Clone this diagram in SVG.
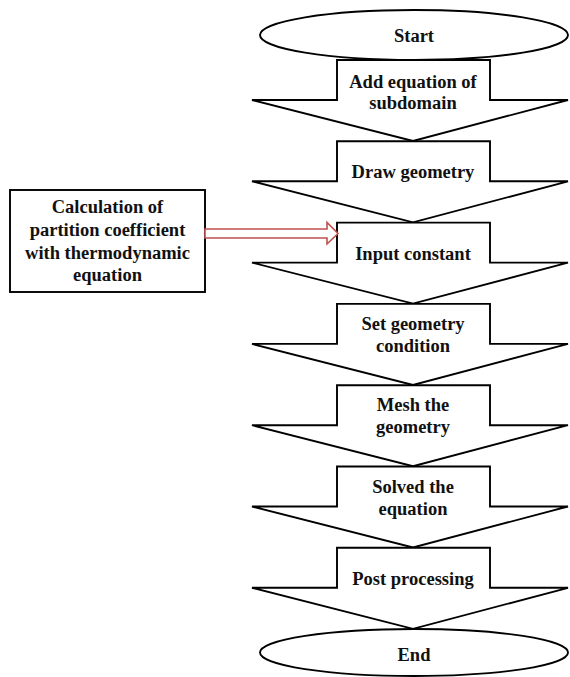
<svg xmlns="http://www.w3.org/2000/svg" width="570" height="677" viewBox="0 0 570 677">
<style>
.s{fill:#fff;stroke:#000;stroke-width:1.9;stroke-linejoin:miter}
text{font-family:'Liberation Serif','Times New Roman','DejaVu Serif',serif;font-weight:700;font-size:18.5px;fill:#111;text-anchor:middle}
.r{fill:#fff;stroke:#C0504D;stroke-width:1.6}
</style>
<defs>
<path id="arr" d="M337,0 H490 V40 H568 L413,81 L252,40 H337 Z"/>
</defs>
<rect width="570" height="677" fill="#fff"/>
<g id="start">
<ellipse class="s" cx="414" cy="35" rx="154" ry="25"/>
<text x="414" y="41.5">Start</text>
</g>
<g id="n1" transform="translate(0,60)">
<use href="#arr" class="s"/>
<text x="413" y="27.5">Add equation of</text>
<text x="413" y="49">subdomain</text>
</g>
<g id="n2" transform="translate(0,141.3)">
<use href="#arr" class="s"/>
<text x="413" y="37">Draw geometry</text>
</g>
<g id="n3" transform="translate(0,222.6)">
<use href="#arr" class="s"/>
<text x="413" y="37">Input constant</text>
</g>
<g id="n4" transform="translate(0,303.9)">
<use href="#arr" class="s"/>
<text x="413" y="26">Set geometry</text>
<text x="413" y="48">condition</text>
</g>
<g id="n5" transform="translate(0,385.2)">
<use href="#arr" class="s"/>
<text x="413" y="26">Mesh the</text>
<text x="413" y="48">geometry</text>
</g>
<g id="n6" transform="translate(0,466.5)">
<use href="#arr" class="s"/>
<text x="413" y="26">Solved the</text>
<text x="413" y="48.5">equation</text>
</g>
<g id="n7" transform="translate(0,547.8)">
<use href="#arr" class="s"/>
<text x="413" y="37">Post processing</text>
</g>
<g id="end">
<ellipse class="s" cx="414" cy="652.5" rx="154" ry="23.5"/>
<text x="414" y="661">End</text>
</g>
<g id="calc">
<rect class="s" x="10" y="190" width="195" height="102"/>
<text x="107.5" y="213">Calculation of</text>
<text x="107.5" y="236">partition coefficient</text>
<text x="107.5" y="259">with thermodynamic</text>
<text x="107.5" y="281">equation</text>
</g>
<g id="connectors">
<path class="r" d="M205,229 H327 V222.5 L338,233.5 L327,244 V238 H205 Z"/>
</g>
</svg>
